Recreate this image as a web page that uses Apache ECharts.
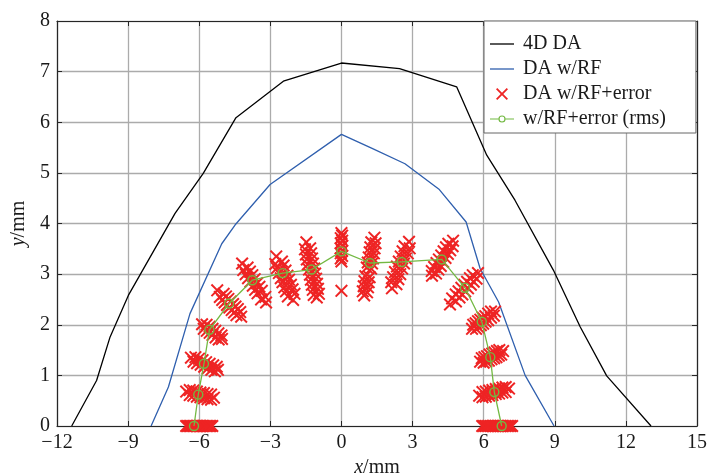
<!DOCTYPE html>
<html>
<head>
<meta charset="utf-8">
<script src="https://cdn.jsdelivr.net/npm/echarts@6/dist/echarts.min.js"></script>
<style>
  html, body { margin: 0; padding: 0; background: #fff; }
  #chart { width: 707px; height: 473px; }
</style>
</head>
<body>
<div id="chart"></div>
<script>
// 4D DA
const da4dX = [-11.38, -10.33, -9.76, -8.99, -7.02, -5.83, -4.45, -2.45, 0, 2.45, 4.86, 6.13, 7.32, 8.94, 10.07, 11.19, 13.06]
const da4dY = [0, 0.9, 1.76, 2.58, 4.2, 4.99, 6.09, 6.81, 7.17, 7.06, 6.7, 5.35, 4.46, 3.08, 1.96, 0.99, 0]

// DA w/RF
const daRfX = [-8.03, -7.3, -6.39, -5.05, -4.49, -3.01, 0, 1.27, 2.68, 4.13, 5.26, 5.85, 6.63, 7.75, 8.97]
const daRfY = [0, 0.77, 2.22, 3.6, 3.97, 4.77, 5.76, 5.49, 5.18, 4.67, 4.03, 3.11, 2.45, 1.0, 0]

// w/RF+error (rms)
const rmsX = [-6.22, -6.04, -5.8, -5.57, -4.74, -3.76, -2.48, -1.26, 0, 1.2, 2.54, 4.23, 5.21, 5.92, 6.28, 6.45, 6.76]
const rmsY = [0, 0.62, 1.23, 1.9, 2.42, 2.88, 3.02, 3.09, 3.45, 3.22, 3.24, 3.29, 2.73, 2.06, 1.36, 0.67, 0]

// DA w/RF+error, one line per ray
const errPts = [
  [-6.55, 0], [-6.48, 0], [-6.42, 0], [-6.36, 0], [-6.3, 0], [-6.24, 0], [-6.18, 0], [-6.12, 0], [-6.06, 0], [-6.0, 0], [-5.94, 0], [-5.88, 0], [-5.82, 0], [-5.76, 0], [-5.7, 0], [-5.64, 0], [-5.58, 0], [-5.52, 0], [-5.45, 0],
  [-6.55, 0.68], [-6.4, 0.71], [-6.4, 0.61], [-6.25, 0.7], [-6.25, 0.6], [-6.1, 0.68], [-6.1, 0.58], [-5.95, 0.66], [-5.95, 0.57], [-5.8, 0.65], [-5.8, 0.55], [-5.65, 0.63], [-5.65, 0.53], [-5.5, 0.62], [-5.5, 0.52], [-5.38, 0.56],
  [-6.35, 1.35], [-6.16, 1.36], [-6.24, 1.27], [-6.01, 1.33], [-6.09, 1.24], [-5.86, 1.3], [-5.94, 1.21], [-5.71, 1.26], [-5.79, 1.17], [-5.56, 1.23], [-5.64, 1.14], [-5.41, 1.2], [-5.49, 1.11], [-5.26, 1.17], [-5.34, 1.08], [-5.21, 1.11],
  [-5.88, 2.01], [-5.69, 2.0], [-5.81, 1.92], [-5.56, 1.96], [-5.68, 1.88], [-5.44, 1.92], [-5.56, 1.84], [-5.32, 1.88], [-5.44, 1.8], [-5.19, 1.83], [-5.31, 1.75], [-5.06, 1.79], [-5.18, 1.71], [-5.04, 1.72],
  [-5.24, 2.68], [-4.97, 2.61], [-5.13, 2.55], [-4.87, 2.56], [-5.03, 2.49], [-4.77, 2.51], [-4.93, 2.44], [-4.67, 2.46], [-4.83, 2.39], [-4.57, 2.41], [-4.73, 2.34], [-4.47, 2.36], [-4.63, 2.29], [-4.37, 2.31], [-4.53, 2.24], [-4.27, 2.25], [-4.43, 2.19], [-4.23, 2.16],
  [-4.19, 3.21], [-3.96, 3.13], [-4.14, 3.08], [-3.86, 3.05], [-4.04, 3.0], [-3.76, 2.98], [-3.94, 2.92], [-3.66, 2.9], [-3.84, 2.85], [-3.56, 2.82], [-3.74, 2.77], [-3.46, 2.75], [-3.64, 2.69], [-3.36, 2.67], [-3.54, 2.62], [-3.21, 2.55], [-3.39, 2.5], [-3.18, 2.44],
  [-2.75, 3.35], [-2.51, 3.25], [-2.79, 3.2], [-2.44, 3.17], [-2.72, 3.12], [-2.36, 3.07], [-2.64, 3.02], [-2.28, 2.97], [-2.56, 2.92], [-2.21, 2.89], [-2.49, 2.84], [-2.13, 2.79], [-2.41, 2.74], [-2.06, 2.7], [-2.34, 2.66], [-1.98, 2.61], [-2.26, 2.56], [-2.04, 2.49],
  [-1.48, 3.63], [-1.32, 3.51], [-1.54, 3.49], [-1.28, 3.41], [-1.5, 3.39], [-1.24, 3.31], [-1.46, 3.29], [-1.2, 3.21], [-1.42, 3.19], [-1.15, 3.11], [-1.37, 3.09], [-1.11, 3.01], [-1.33, 2.99], [-1.07, 2.91], [-1.29, 2.89], [-1.03, 2.81], [-1.25, 2.79], [-0.99, 2.71], [-1.21, 2.69], [-0.95, 2.61], [-1.17, 2.59], [-1.04, 2.54],
  [0, 3.81], [0.03, 3.76], [-0.03, 3.71], [0.03, 3.66], [-0.03, 3.61], [0.03, 3.56], [-0.03, 3.51], [0.03, 3.46], [-0.03, 3.41], [0.03, 3.36], [-0.03, 3.31], [0, 3.25], [0, 2.67],
  [1.39, 3.72], [1.44, 3.61], [1.26, 3.63], [1.4, 3.51], [1.22, 3.53], [1.37, 3.41], [1.19, 3.43], [1.33, 3.31], [1.15, 3.33], [1.29, 3.21], [1.11, 3.23], [1.25, 3.11], [1.07, 3.13], [1.19, 2.94], [1.01, 2.96], [1.15, 2.84], [0.97, 2.86], [1.12, 2.74], [0.94, 2.76], [1.08, 2.64], [0.9, 2.66], [0.96, 2.58],
  [2.85, 3.64], [2.88, 3.51], [2.66, 3.55], [2.8, 3.41], [2.58, 3.45], [2.72, 3.31], [2.5, 3.35], [2.64, 3.21], [2.42, 3.25], [2.56, 3.11], [2.34, 3.15], [2.48, 3.0], [2.26, 3.04], [2.4, 2.9], [2.18, 2.94], [2.32, 2.8], [2.1, 2.84], [2.13, 2.72],
  [4.71, 3.66], [4.69, 3.55], [4.51, 3.6], [4.59, 3.47], [4.41, 3.53], [4.49, 3.4], [4.31, 3.45], [4.39, 3.32], [4.21, 3.37], [4.29, 3.24], [4.11, 3.29], [4.19, 3.16], [4.01, 3.22], [4.09, 3.09], [3.91, 3.14], [3.99, 3.01], [3.81, 3.06], [3.82, 2.97],
  [5.76, 3.02], [5.7, 2.91], [5.54, 2.98], [5.58, 2.85], [5.42, 2.92], [5.46, 2.79], [5.3, 2.85], [5.34, 2.72], [5.18, 2.79], [5.22, 2.66], [5.06, 2.73], [5.1, 2.6], [4.94, 2.66], [4.98, 2.54], [4.82, 2.6], [4.83, 2.46], [4.67, 2.52], [4.58, 2.4],
  [5.51, 1.92], [5.68, 1.92], [5.56, 2.0], [5.78, 1.95], [5.66, 2.03], [5.88, 1.99], [5.76, 2.07], [5.98, 2.02], [5.86, 2.1], [6.08, 2.06], [5.96, 2.14], [6.19, 2.09], [6.07, 2.17], [6.31, 2.14], [6.19, 2.22], [6.43, 2.18], [6.31, 2.26], [6.48, 2.26],
  [5.85, 1.27], [6.0, 1.25], [5.92, 1.34], [6.11, 1.27], [6.03, 1.36], [6.22, 1.29], [6.14, 1.38], [6.33, 1.32], [6.25, 1.41], [6.44, 1.34], [6.36, 1.43], [6.54, 1.36], [6.46, 1.45], [6.64, 1.39], [6.56, 1.48], [6.74, 1.41], [6.66, 1.5], [6.82, 1.48],
  [5.81, 0.6], [5.95, 0.57], [5.95, 0.67], [6.09, 0.58], [6.09, 0.68], [6.23, 0.6], [6.23, 0.7], [6.37, 0.61], [6.37, 0.71], [6.51, 0.63], [6.51, 0.73], [6.65, 0.64], [6.65, 0.74], [6.79, 0.66], [6.79, 0.76], [6.93, 0.67], [6.93, 0.77], [7.07, 0.74],
  [5.94, 0], [6.01, 0], [6.08, 0], [6.15, 0], [6.22, 0], [6.29, 0], [6.36, 0], [6.43, 0], [6.5, 0], [6.57, 0], [6.64, 0], [6.71, 0], [6.78, 0], [6.85, 0], [6.92, 0], [6.99, 0], [7.06, 0], [7.13, 0], [7.2, 0]
]

const zip = (xs, ys) => xs.map((x, i) => [x, ys[i]])
const minus = v => String(v).replace('-', '\u2212')

const font = 'Liberation Serif'
const black = '#000000'
const blue = '#2f5fae'
const red = '#ee2424'
const green = '#73b943'
const crossPath = 'path://M0,1.3L1.3,0L6,4.7L10.7,0L12,1.3L7.3,6L12,10.7L10.7,12L6,7.3L1.3,12L0,10.7L4.7,6Z'
const lineIcon = 'path://M0,0H24V1.3H0Z'
const ringIcon = 'path://M0,5.4H8.4V6.6H0Z M15.6,5.4H24V6.6H15.6Z M15.6,6A3.6,3.6 0 1,0 8.4,6A3.6,3.6 0 1,0 15.6,6Z M14.4,6A2.4,2.4 0 1,1 9.6,6A2.4,2.4 0 1,1 14.4,6Z'

const chart = echarts.init(document.getElementById('chart'))

const axisCommon = {
  axisLine: { onZero: false, lineStyle: { color: '#262626', width: 1.2 } },
  axisTick: { inside: true, length: 5, lineStyle: { color: '#262626', width: 1 } },
  splitLine: { show: false }
}
const nameRich = {
  i: { fontFamily: font, fontSize: 20, fontStyle: 'italic', color: '#1a1a1a' },
  n: { fontFamily: font, fontSize: 20, color: '#1a1a1a' }
}

const option = {
  animation: false,
  textStyle: { fontFamily: font },
  grid: { left: 57, right: 10, top: 21, bottom: 47, outerBoundsMode: 'none' },
  legend: {
    orient: 'vertical',
    left: 484,
    top: 21,
    padding: [13, 30, 4, 6],
    itemWidth: 24,
    itemHeight: 12,
    itemGap: 5,
    symbolKeepAspect: true,
    backgroundColor: '#fff',
    borderColor: '#666',
    borderWidth: 1,
    borderRadius: 0,
    textStyle: { fontFamily: font, fontSize: 20, color: '#1a1a1a', padding: [0, 0, 0, 4] },
    data: [
      { name: '4D DA', icon: lineIcon, itemStyle: { color: black, borderWidth: 0 } },
      { name: 'DA w/RF', icon: lineIcon, itemStyle: { color: blue, borderWidth: 0 } },
      { name: 'DA w/RF+error', icon: crossPath, itemStyle: { color: red, borderWidth: 0 } },
      { name: 'w/RF+error (rms)', icon: ringIcon, itemStyle: { color: green, borderWidth: 0 } }
    ]
  },
  xAxis: [
    {
      type: 'value', min: -12, max: 15, interval: 3,
      ...axisCommon,
      axisLabel: { fontFamily: font, fontSize: 20, color: '#1a1a1a', margin: 7, formatter: minus },
      splitLine: { show: true, lineStyle: { color: '#ababab', width: 1.3 } },
      name: '{i|x}{n|/mm}',
      nameLocation: 'middle',
      nameGap: 30,
      nameTextStyle: { rich: nameRich }
    },
    {
      type: 'value', min: -12, max: 15, interval: 3, position: 'top',
      ...axisCommon,
      axisLabel: { show: false }
    }
  ],
  yAxis: [
    {
      type: 'value', min: 0, max: 8, interval: 1,
      ...axisCommon,
      axisLabel: { fontFamily: font, fontSize: 20, color: '#1a1a1a', margin: 7 },
      splitLine: { show: true, lineStyle: { color: '#ababab', width: 1.3 } },
      name: '{i|y}{n|/mm}',
      nameLocation: 'middle',
      nameGap: 26,
      nameTextStyle: { rich: nameRich }
    },
    {
      type: 'value', min: 0, max: 8, interval: 1, position: 'right',
      ...axisCommon,
      axisLabel: { show: false }
    }
  ],
  series: [
    {
      name: '4D DA',
      type: 'line',
      data: zip(da4dX, da4dY),
      symbol: 'none',
      lineStyle: { color: black, width: 1.3 },
      itemStyle: { color: black },
      z: 3
    },
    {
      name: 'DA w/RF',
      type: 'line',
      data: zip(daRfX, daRfY),
      symbol: 'none',
      lineStyle: { color: blue, width: 1.3 },
      itemStyle: { color: blue },
      z: 3
    },
    {
      name: 'DA w/RF+error',
      type: 'scatter',
      data: errPts,
      symbol: crossPath,
      symbolSize: 13,
      itemStyle: { color: red, opacity: 1 },
      z: 4
    },
    {
      name: 'w/RF+error (rms)',
      type: 'line',
      data: zip(rmsX, rmsY),
      symbol: 'circle',
      symbolSize: 9,
      showAllSymbol: true,
      lineStyle: { color: green, width: 1.3 },
      itemStyle: { color: 'rgba(0,0,0,0)', borderColor: green, borderWidth: 1.4 },
      z: 5
    }
  ]
}

chart.setOption(option)
</script>
</body>
</html>
